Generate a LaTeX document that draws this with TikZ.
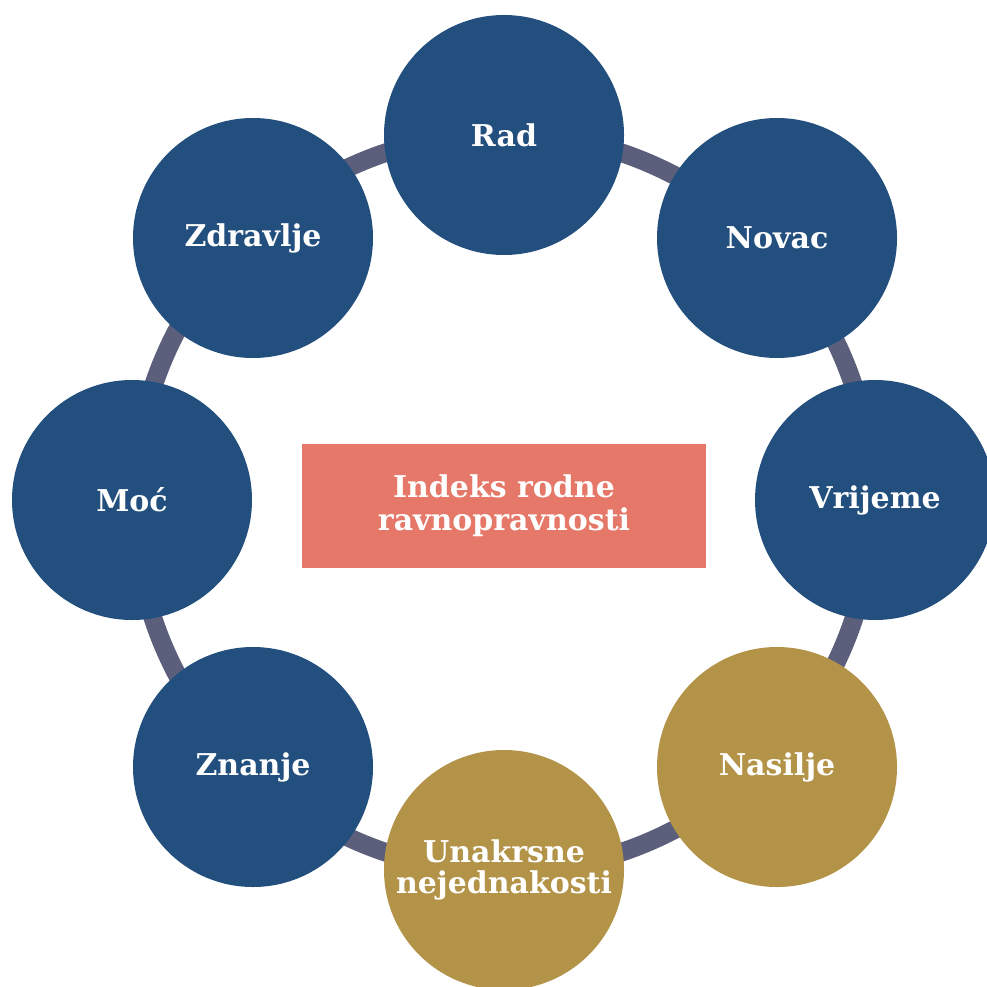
\documentclass[tikz,border=0pt]{standalone}
\usepackage{fontspec}
\setmainfont{DejaVu Serif}
\definecolor{dimblue}{HTML}{234F7E}
\definecolor{dimgold}{HTML}{B39348}
\definecolor{ringgray}{HTML}{5B5F7C}
\definecolor{indexred}{HTML}{E57868}

\begin{document}
\begin{tikzpicture}[x=0.75pt, y=-0.75pt,
  dim/.style = {circle, fill=dimblue, minimum size=180pt, inner sep=0pt, text=white, align=center,
                font=\bfseries\fontsize{22.5}{23.5}\selectfont},
  extra/.style = {dim, fill=dimgold},
  index/.style = {rectangle, fill=indexred, minimum width=303pt, minimum height=93pt, text=white, align=center,
                  font=\bfseries\fontsize{22.5}{25}\selectfont},
  ring/.style = {draw=ringgray, line width=14pt}]
\useasboundingbox (0,0) rectangle (987,987);
\clip (0,0) rectangle (987,987);
\coordinate (c) at (503.5,502.5);
\draw[ring] (c) circle[radius=369];
\node[dim] (rad) at (504,135) {Rad};
\node[dim] (novac) at (777,238) {Novac};
\node[dim] (vrijeme) at (875,500) {Vrijeme};
\node[extra] (nasilje) at (777,767) {Nasilje};
\node[extra] (unakrsne) at (504,870) {Unakrsne\\nejednakosti};
\node[dim] (znanje) at (253,767) {Znanje};
\node[dim] (moc) at (132,500) {Moć};
\node[dim] (zdravlje) at (253,238) {Zdravlje};
\node[index] (idx) at (504,506) {Indeks rodne\\ravnopravnosti};
\end{tikzpicture}
\end{document}
